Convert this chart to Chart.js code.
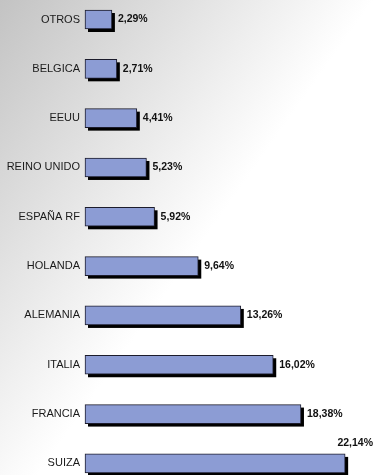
<!DOCTYPE html>
<html>
<head>
<meta charset="utf-8">
<script src="https://cdn.jsdelivr.net/npm/chart.js@4"></script>
<style>
  html, body { margin: 0; padding: 0; background: #ffffff; }
  #wrap { width: 374px; height: 475px; }
</style>
</head>
<body>
<div id="wrap"><canvas id="chart" width="374" height="475"></canvas></div>
<script>
// Share by country (%)
const categories = ['OTROS', 'BELGICA', 'EEUU', 'REINO UNIDO', 'ESPAÑA RF', 'HOLANDA', 'ALEMANIA', 'ITALIA', 'FRANCIA', 'SUIZA'];
const shares = [2.29, 2.71, 4.41, 5.23, 5.92, 9.64, 13.26, 16.02, 18.38, 22.14];

const fmt = v => v.toFixed(2).replace('.', ',') + '%';

// Grey-to-white diagonal backdrop
const backdrop = {
  id: 'backdrop',
  beforeDraw(chart) {
    const { ctx, width, height } = chart;
    const g = ctx.createLinearGradient(0, 0, 249, 176);
    g.addColorStop(0, '#c3c3c3');
    g.addColorStop(1, '#ffffff');
    ctx.save();
    ctx.fillStyle = g;
    ctx.fillRect(0, 0, width, height);
    ctx.restore();
  }
};

// Solid black drop shadow behind each bar
const barShadow = {
  id: 'barShadow',
  beforeDatasetsDraw(chart) {
    const { ctx } = chart;
    ctx.save();
    ctx.fillStyle = '#000000';
    chart.getDatasetMeta(0).data.forEach(bar => {
      const { x, y, base, height } = bar.getProps(['x', 'y', 'base', 'height'], true);
      ctx.fillRect(base + 3, y - height / 2 + 3, x - base, height);
    });
    ctx.restore();
  }
};

// Percentage labels at the end of each bar
const valueLabels = {
  id: 'valueLabels',
  afterDatasetsDraw(chart) {
    const { ctx, width } = chart;
    ctx.save();
    ctx.font = 'bold 10.5px "Liberation Sans", Arial, sans-serif';
    ctx.fillStyle = '#111111';
    ctx.textBaseline = 'middle';
    chart.getDatasetMeta(0).data.forEach((bar, i) => {
      const { x, y, height } = bar.getProps(['x', 'y', 'height'], true);
      const text = fmt(shares[i]);
      const w = ctx.measureText(text).width;
      if (x + 6 + w > width - 1) {
        ctx.textAlign = 'right';
        ctx.fillText(text, width - 1, y - height / 2 - 11);
      } else {
        ctx.textAlign = 'left';
        ctx.fillText(text, x + 6, y);
      }
    });
    ctx.restore();
  }
};

new Chart(document.getElementById('chart'), {
  type: 'bar',
  data: {
    labels: categories,
    datasets: [{
      data: shares,
      backgroundColor: '#8c9cd4',
      borderColor: '#1c1c2c',
      borderWidth: 1,
      borderSkipped: false,
      barThickness: 19,
      clip: false
    }]
  },
  options: {
    indexAxis: 'y',
    responsive: false,
    animation: false,
    devicePixelRatio: 1,
    layout: { padding: { top: 19.5, bottom: 10.5, left: 0, right: 7 } },
    plugins: {
      legend: { display: false },
      tooltip: { enabled: false }
    },
    scales: {
      x: {
        display: false,
        min: 0,
        max: 24
      },
      y: {
        offset: false,
        grid: { display: false, drawTicks: false },
        border: { display: false },
        afterFit(scale) { scale.width = 85; },
        ticks: {
          padding: 5,
          color: '#1a1a1a',
          font: { family: '"Liberation Sans", Arial, sans-serif', size: 11 }
        }
      }
    }
  },
  plugins: [backdrop, barShadow, valueLabels]
});
</script>
</body>
</html>
